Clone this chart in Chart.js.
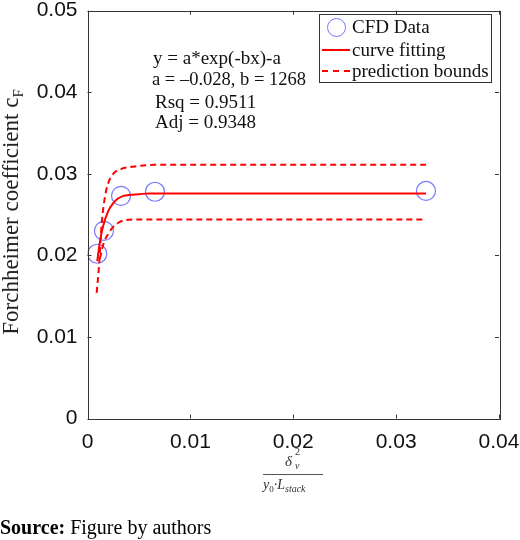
<!DOCTYPE html>
<html>
<head>
<meta charset="utf-8">
<script src="https://cdn.jsdelivr.net/npm/chart.js@4.4.1/dist/chart.umd.min.js"></script>
<style>
  html, body { margin:0; padding:0; background:#fff; }
  #wrap { position:relative; width:520px; height:540px; overflow:hidden; }
  #c { position:absolute; left:0; top:0; }
  .ov { position:absolute; white-space:nowrap; color:#111; font-family:"Liberation Serif","Times New Roman",serif; }
  #legend { position:absolute; left:319px; top:14px; width:171px; height:67px; border:1px solid #333; background:#fff; }
  .lg { position:absolute; font:19px "Liberation Serif","Times New Roman",serif; color:#111; line-height:20px; white-space:nowrap; }
</style>
</head>
<body>
<div id="wrap">
  <canvas id="c" width="520" height="540"></canvas>

  <div id="legend">
    <div style="position:absolute;left:7px;top:3px;width:17px;height:17px;border:1.2px solid rgb(120,120,255);border-radius:50%;"></div>
    <div style="position:absolute;left:2px;top:34px;width:28px;height:0;border-top:2px solid #ff0000;"></div>
    <div style="position:absolute;left:2px;top:55px;width:28px;height:0;border-top:2px dashed #ff0000;"></div>
    <div class="lg" style="left:32px;top:2px;">CFD Data</div>
    <div class="lg" style="left:32px;top:25px;">curve fitting</div>
    <div class="lg" style="left:32px;top:46px;">prediction bounds</div>
  </div>

  <div class="ov" style="left:153px;top:47px;font-size:19px;line-height:22px;">y = a*exp(-bx)-a</div>
  <div class="ov" style="left:152px;top:68px;font-size:18.5px;line-height:22px;">a = –0.028, b = 1268</div>
  <div class="ov" style="left:155px;top:91px;font-size:19px;line-height:22px;">Rsq = 0.9511</div>
  <div class="ov" style="left:155px;top:111px;font-size:19px;line-height:22px;">Adj = 0.9348</div>

  <div class="ov" style="left:-149px;top:199px;width:320px;text-align:center;font-size:23px;line-height:26px;color:#222;transform:rotate(-90deg);transform-origin:160px 13px;">Forchheimer coefficient c<sub style="font-size:15px;vertical-align:-5px;">F</sub></div>

  <div class="ov" style="left:285px;top:453px;font-size:15px;font-style:italic;line-height:16px;color:#333;">δ</div>
  <div class="ov" style="left:295px;top:446px;font-size:10px;line-height:11px;color:#333;">2</div>
  <div class="ov" style="left:295px;top:460px;font-size:10px;font-style:italic;line-height:11px;color:#333;">v</div>
  <div style="position:absolute;left:263px;top:474px;width:60px;height:1px;background:#555;"></div>
  <div class="ov" style="left:263px;top:477px;font-size:14px;font-style:italic;line-height:16px;color:#333;">y<span style="font-size:9px;font-style:normal;vertical-align:-3px;">0</span>·L<span style="font-size:10px;vertical-align:-3px;">stack</span></div>

  <div class="ov" style="left:0px;top:516px;font-size:20px;line-height:22px;color:#000;"><b>Source:</b> Figure by authors</div>
</div>

<script>
// ---- data ----
const cfdX = [0.00095, 0.0016, 0.00326, 0.00656, 0.0329];
const cfdY = [0.0202, 0.0230, 0.0273, 0.0278, 0.0279];

const fitX = [0.00095, 0.0012, 0.0015, 0.002, 0.0025, 0.003, 0.0035, 0.004, 0.005, 0.006, 0.0329];
const fitY = [0.0193, 0.0216, 0.0235, 0.0254, 0.0264, 0.0270, 0.0273, 0.0274, 0.0275, 0.0276, 0.0276];

const upperX = [0.00089, 0.00112, 0.00138, 0.0017, 0.002, 0.0025, 0.0033, 0.0046, 0.0065, 0.0329];
const upperY = [0.0154, 0.0187, 0.0239, 0.0272, 0.0288, 0.0300, 0.0306, 0.0309, 0.0311, 0.0311];

const lowerX = [0.0012, 0.0016, 0.002, 0.0025, 0.003, 0.0036, 0.005, 0.0329];
const lowerY = [0.0196, 0.0216, 0.0226, 0.0235, 0.0240, 0.0243, 0.0244, 0.0244];

const xTickLabels = ["0", "0.01", "0.02", "0.03", "0.04"];
const yTickLabels = ["0", "0.01", "0.02", "0.03", "0.04", "0.05"];

const pts = (xs, ys) => xs.map((x, i) => ({ x: x, y: ys[i] }));

const boxPlugin = {
  id: 'matlabBox',
  afterDraw(chart) {
    const ctx = chart.ctx, a = chart.chartArea;
    const xs = chart.scales.x, ys = chart.scales.y;
    ctx.save();
    ctx.strokeStyle = '#333';
    ctx.lineWidth = 1;
    ctx.strokeRect(Math.round(a.left) + 0.5, Math.round(a.top) + 0.5,
                   Math.round(a.right - a.left), Math.round(a.bottom - a.top));
    const L = 4;
    ctx.beginPath();
    xs.ticks.forEach(t => {
      const p = Math.round(xs.getPixelForValue(t.value)) + 0.5;
      ctx.moveTo(p, a.bottom); ctx.lineTo(p, a.bottom - L);
      ctx.moveTo(p, a.top); ctx.lineTo(p, a.top + L);
    });
    ys.ticks.forEach(t => {
      const p = Math.round(ys.getPixelForValue(t.value)) + 0.5;
      ctx.moveTo(a.left, p); ctx.lineTo(a.left + L, p);
      ctx.moveTo(a.right, p); ctx.lineTo(a.right - L, p);
    });
    ctx.stroke();
    ctx.restore();
  }
};

new Chart(document.getElementById('c'), {
  type: 'scatter',
  data: {
    datasets: [
      {
        label: 'prediction bounds',
        data: pts(upperX, upperY),
        showLine: true, borderColor: '#ff0000', borderWidth: 2, borderDash: [6, 4],
        pointRadius: 0, cubicInterpolationMode: 'monotone', fill: false
      },
      {
        label: 'prediction bounds (lower)',
        data: pts(lowerX, lowerY),
        showLine: true, borderColor: '#ff0000', borderWidth: 2, borderDash: [6, 4],
        pointRadius: 0, cubicInterpolationMode: 'monotone', fill: false
      },
      {
        label: 'curve fitting',
        data: pts(fitX, fitY),
        showLine: true, borderColor: '#ff0000', borderWidth: 2,
        pointRadius: 0, cubicInterpolationMode: 'monotone', fill: false
      },
      {
        label: 'CFD Data',
        data: pts(cfdX, cfdY),
        showLine: false, pointStyle: 'circle', pointRadius: 9.5,
        pointBorderColor: 'rgb(120,120,255)', pointBackgroundColor: 'rgba(0,0,0,0)',
        pointBorderWidth: 1.2
      }
    ]
  },
  options: {
    responsive: false,
    animation: false,
    devicePixelRatio: 1,
    layout: { padding: { top: 7.5, right: 21, left: 0, bottom: 0 } },
    plugins: { legend: { display: false }, tooltip: { enabled: false } },
    scales: {
      x: {
        type: 'linear', min: 0, max: 0.04,
        afterFit(s) { s.height = 121.5; s.paddingLeft = 0; s.paddingRight = 0; },
        ticks: {
          stepSize: 0.01, padding: 11, color: '#111',
          font: { family: '"Liberation Sans", Arial, sans-serif', size: 21 },
          callback: (v) => xTickLabels[Math.round(v / 0.01)]
        },
        grid: { display: false, drawTicks: false },
        border: { display: false }
      },
      y: {
        type: 'linear', min: 0, max: 0.05,
        afterFit(s) { s.width = 87.5; s.paddingTop = 0; s.paddingBottom = 0; },
        ticks: {
          stepSize: 0.01, padding: 10, color: '#111',
          font: { family: '"Liberation Sans", Arial, sans-serif', size: 21 },
          callback: (v) => yTickLabels[Math.round(v / 0.01)]
        },
        grid: { display: false, drawTicks: false },
        border: { display: false }
      }
    }
  },
  plugins: [boxPlugin]
});
</script>
</body>
</html>
